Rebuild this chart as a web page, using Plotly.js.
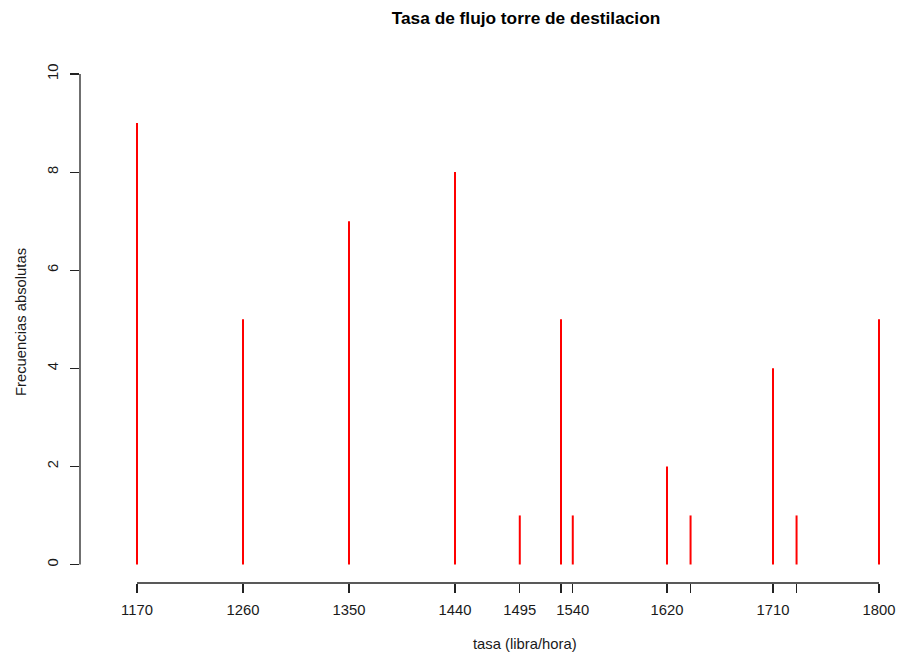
<!DOCTYPE html>
<html>
<head>
<meta charset="utf-8">
<script src="https://cdn.plot.ly/plotly-3.0.1.min.js"></script>
<style>html,body{margin:0;padding:0;background:#fff;}#chart{width:900px;height:658px;}</style>
</head>
<body>
<div id="chart"></div>
<script>
// Data
const tasa = [1170, 1260, 1350, 1440, 1495, 1530, 1540, 1620, 1640, 1710, 1730, 1800];
const frecuencias = [9, 5, 7, 8, 1, 5, 1, 2, 1, 4, 1, 5];
const xTickLabels = ['1170', '1260', '1350', '1440', '1495', '', '1540', '1620', '', '1710', '', '1800'];
const yTicks = [0, 2, 4, 6, 8, 10];
const chartTitle = 'Tasa de flujo torre de destilacion';
const xTitle = 'tasa (libra/hora)';
const yTitle = 'Frecuencias absolutas';

// Build vertical "h"-type lines
const lx = [], ly = [];
tasa.forEach((v, i) => { lx.push(v, v, null); ly.push(0, frecuencias[i], null); });

const font = 'Liberation Sans, Arial, Helvetica, sans-serif';
const txt = '#1a1a1a';

const trace = {
  type: 'scatter', mode: 'lines', x: lx, y: ly,
  line: {color: '#ff0000', width: 2}, hoverinfo: 'skip', showlegend: false
};

const layout = {
  width: 900, height: 658,
  paper_bgcolor: '#fff', plot_bgcolor: '#fff',
  margin: {l: 80, r: 0, t: 50, b: 75},
  font: {family: font, color: txt},
  title: {text: '<b>' + chartTitle + '</b>', x: 526/900, xanchor: 'center',
          y: 1 - 18/658, yanchor: 'middle', xref: 'container', yref: 'container',
          font: {size: 17.3, color: '#000', family: font}},
  xaxis: {
    range: [1170 - 57/1.17778, 1800 + 21/1.17778],
    tickmode: 'array', tickvals: tasa, ticktext: xTickLabels,
    ticks: 'outside', ticklen: 9, tickwidth: 1.2, tickcolor: '#222',
    showgrid: false, zeroline: false, showline: false,
    tickfont: {size: 14.8, color: txt}, ticklabelstandoff: 4
  },
  yaxis: {
    range: [-18.5/49.05, 10 + 24/49.05],
    tickmode: 'array', tickvals: yTicks,
    ticks: 'outside', ticklen: 9, tickwidth: 1.2, tickcolor: '#222',
    showgrid: false, zeroline: false, showline: false,
    tickangle: -90, tickfont: {size: 14.8, color: txt}, ticklabelstandoff: 6
  },
  shapes: [
    {type: 'line', xref: 'x', yref: 'paper', x0: Math.min(...tasa), x1: Math.max(...tasa), y0: 0, y1: 0,
     line: {color: '#222', width: 1.3}},
    {type: 'line', xref: 'paper', yref: 'y', x0: 0, x1: 0, y0: yTicks[0], y1: yTicks[yTicks.length - 1],
     line: {color: '#222', width: 1.3}}
  ],
  annotations: [
    {text: xTitle, xref: 'paper', yref: 'paper', x: (525 - 80)/820, y: (583 - 644)/533,
     xanchor: 'center', yanchor: 'middle', showarrow: false, font: {size: 14.8, color: txt}},
    {text: yTitle, xref: 'paper', yref: 'paper', x: (21 - 80)/820, y: (583 - 322)/533,
     xanchor: 'center', yanchor: 'middle', textangle: -90, showarrow: false, font: {size: 14.8, color: txt}}
  ]
};

Plotly.newPlot('chart', [trace], layout, {displayModeBar: false, staticPlot: true});
</script>
</body>
</html>
